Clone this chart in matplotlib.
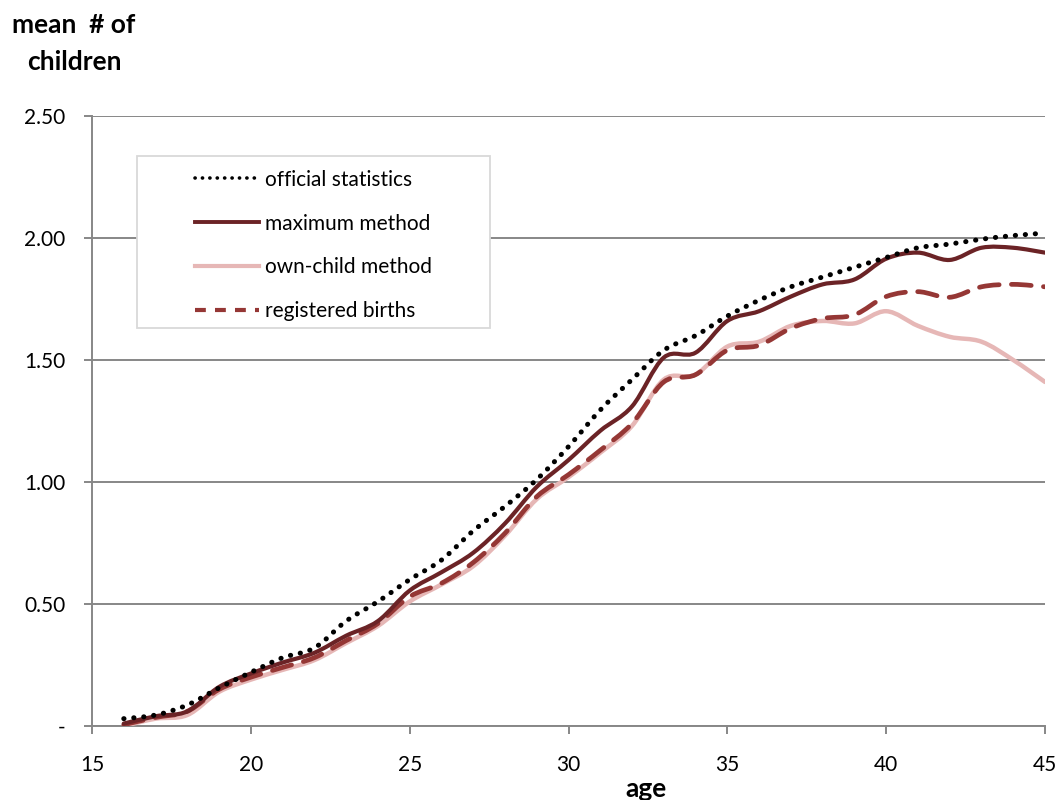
import matplotlib
matplotlib.use("Agg")
import matplotlib.pyplot as plt
from matplotlib.patches import Rectangle, PathPatch
from matplotlib.path import Path
from matplotlib.lines import Line2D

ages = list(range(16, 46))
official = [0.03, 0.045, 0.086, 0.156, 0.22, 0.28, 0.32, 0.43, 0.51, 0.60,
            0.68, 0.80, 0.90, 1.01, 1.145, 1.295, 1.42, 1.54, 1.60, 1.68,
            1.745, 1.80, 1.84, 1.88, 1.92, 1.96, 1.975, 1.995, 2.01, 2.02]
maximum = [0.01, 0.04, 0.06, 0.16, 0.215, 0.26, 0.30, 0.37, 0.43, 0.555,
           0.63, 0.71, 0.83, 0.98, 1.09, 1.21, 1.31, 1.51, 1.53, 1.66,
           1.70, 1.76, 1.81, 1.83, 1.915, 1.94, 1.91, 1.96, 1.96, 1.94]
own_child = [0.0, 0.03, 0.045, 0.14, 0.19, 0.23, 0.27, 0.34, 0.41, 0.51,
             0.58, 0.655, 0.78, 0.93, 1.02, 1.12, 1.23, 1.42, 1.44, 1.555,
             1.575, 1.64, 1.66, 1.65, 1.70, 1.64, 1.595, 1.575, 1.50, 1.41]
registered = [0.005, 0.035, 0.06, 0.15, 0.20, 0.24, 0.28, 0.35, 0.42, 0.53,
              0.585, 0.67, 0.79, 0.94, 1.03, 1.13, 1.24, 1.41, 1.44, 1.54,
              1.56, 1.63, 1.67, 1.685, 1.76, 1.78, 1.757, 1.80, 1.81, 1.80]

labels = ["official statistics", "maximum method", "own-child method", "registered births"]
y_ticks = [0, 0.5, 1.0, 1.5, 2.0, 2.5]
y_ticklabels = ["-", "0.50", "1.00", "1.50", "2.00", "2.50"]
x_ticks = [15, 20, 25, 30, 35, 40, 45]

FONT = "Lato"
plt.rcParams["font.family"] = [FONT, "DejaVu Sans"]

W, H = 1060, 800
fig = plt.figure(figsize=(W / 100, H / 100), dpi=100)
ax = fig.add_axes([92 / W, (H - 726) / H, (1045 - 92) / W, (726 - 116) / H])

grid_c = "#878787"
c_dark = "#6B2326"
c_pink = "#E6B7B6"
c_dash = "#953735"


def smooth_path(xs, ys):
    """Excel-style smoothed line: cubic Bezier segments through the data points."""
    n = len(xs)
    verts = [(xs[0], ys[0])]
    codes = [Path.MOVETO]
    for i in range(n - 1):
        x0, y0 = (xs[i - 1], ys[i - 1]) if i > 0 else (xs[i], ys[i])
        x1, y1 = xs[i], ys[i]
        x2, y2 = xs[i + 1], ys[i + 1]
        x3, y3 = (xs[i + 2], ys[i + 2]) if i + 2 < n else (x2, y2)
        c1 = (x1 + (x2 - x0) / 6, y1 + (y2 - y0) / 6)
        c2 = (x2 - (x3 - x1) / 6, y2 - (y3 - y1) / 6)
        verts += [c1, c2, (x2, y2)]
        codes += [Path.CURVE4] * 3
    return Path(verts, codes)


def draw(ys, color, lw, ls, z):
    p = PathPatch(smooth_path(ages, ys), facecolor="none", edgecolor=color,
                  lw=lw, linestyle=ls, zorder=z)
    p.set_capstyle("round")
    p.set_joinstyle("round")
    ax.add_patch(p)


draw(own_child, c_pink, 3.2, "-", 3)
draw(registered, c_dash, 3.4, (0, (4.2, 2.6)), 4)
draw(maximum, c_dark, 3.0, "-", 5)
draw(official, "black", 3.6, (0, (0.05, 1.95)), 6)

ax.set_xlim(15, 45)
ax.set_ylim(0, 2.5)
ax.set_xticks(x_ticks)
ax.set_yticks(y_ticks)
ax.set_yticklabels(y_ticklabels)
ax.yaxis.grid(True, color=grid_c, lw=1.4)
ax.set_axisbelow(True)
for s in ["top", "right"]:
    ax.spines[s].set_visible(False)
for s in ["left", "bottom"]:
    ax.spines[s].set_color(grid_c)
    ax.spines[s].set_linewidth(1.4)
ax.tick_params(axis="both", colors=grid_c, length=6, width=1.4, labelsize=15,
               labelcolor="black")
ax.tick_params(axis="x", pad=15)
ax.tick_params(axis="y", pad=13)

fig.text(74 / W, 1 - 33 / H, "mean  # of", ha="center", va="baseline",
         fontsize=19, fontweight="bold")
fig.text(74 / W, 1 - 70 / H, "children", ha="center", va="baseline",
         fontsize=19, fontweight="bold")
fig.text(646 / W, 1 - 797 / H, "age", ha="center", va="baseline",
         fontsize=19, fontweight="bold")

# legend frame
fig.patches.append(Rectangle((137 / W, 1 - 328 / H), (490 - 137) / W, (328 - 156) / H,
                             transform=fig.transFigure, facecolor="white",
                             edgecolor="#D9D9D9", lw=1.3, zorder=7))
handles = [
    Line2D([], [], color="black", lw=2.6, linestyle=(0, (0.05, 2.0)), dash_capstyle="round"),
    Line2D([], [], color=c_dark, lw=2.8),
    Line2D([], [], color=c_pink, lw=3.0),
    Line2D([], [], color=c_dash, lw=3.0, linestyle=(0, (2.6, 2.2))),
]
leg = fig.legend(handles, labels, loc="upper left",
                 bbox_to_anchor=(180 / W, 1 - 155 / H), frameon=False,
                 fontsize=15, handlelength=3.1, handletextpad=0.3,
                 labelspacing=1.15, borderpad=0.2)
leg.set_zorder(8)

fig.savefig("out.png", dpi=100)
